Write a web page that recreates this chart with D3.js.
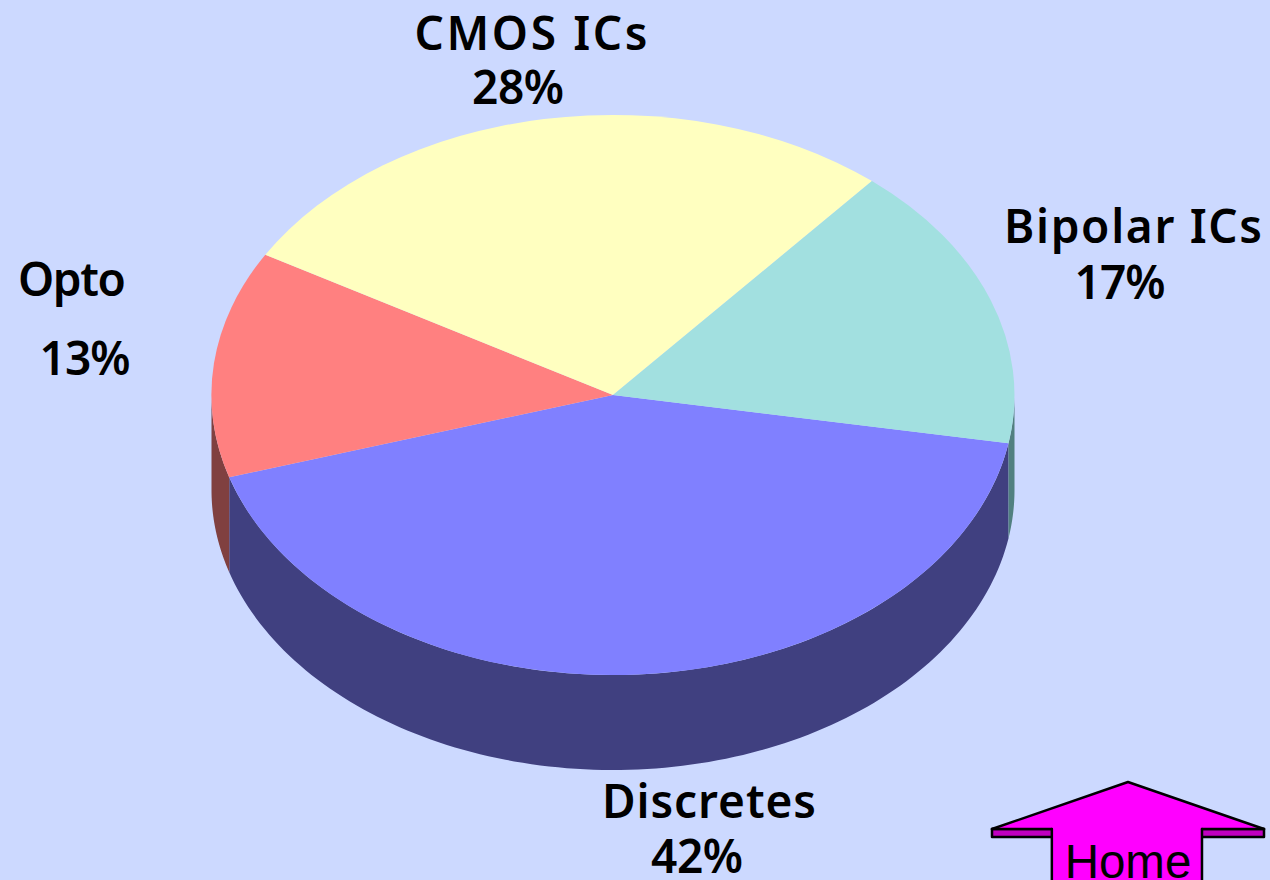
<!DOCTYPE html>
<html><head><meta charset="utf-8">
<script src="https://cdn.jsdelivr.net/npm/d3@7"></script>
<style>html,body{margin:0;padding:0;background:#ccd9ff;overflow:hidden}svg{display:block}</style>
</head><body><svg id="c" width="1270" height="880"></svg>
<script>
const categories = ["Discretes","Opto","CMOS ICs","Bipolar ICs"];
const values = [42.5,13.1,27.8,16.6];
const percentLabels = ["42%","13%","28%","17%"];
const topColors = ["#8080ff","#ff8080","#ffffc0","#a2e0e0"];
const wallColors = ["#404080","#804040","#808060","#518080"];
const labelLines = [
  {i:0,x:709,y:818,t:0,w:214},{i:0,x:697,y:873,t:1,w:92},
  {i:1,x:72,y:296,t:0,w:108},{i:1,x:85,y:375,t:1,w:91},
  {i:2,x:531,y:50,t:0,w:233},{i:2,x:518,y:104,t:1,w:92},
  {i:3,x:1133,y:243,t:0,w:258},{i:3,x:1120,y:299,t:1,w:91}];
const cx=613, cy=395, rx=401.5, ry=280, depth=95;
const svg=d3.select("#c");
const deg=Math.PI/180;
const pie=d3.pie().sort(null).value(d=>d).startAngle(99.9*deg).endAngle(459.9*deg)(values);
const px=a=>cx+rx*Math.sin(a), py=a=>cy-ry*Math.cos(a);
// side walls: only the front half of the ellipse (d3 angles 90..270 deg)
const wallArea=d3.area().x(a=>px(a)).y0(a=>py(a)).y1(a=>py(a)+depth);
pie.forEach((p,i)=>{
  const segs=[[p.startAngle,p.endAngle],[p.startAngle-2*Math.PI,p.endAngle-2*Math.PI]];
  segs.forEach(([s,e])=>{
    const a0=Math.max(s,90*deg), a1=Math.min(e,270*deg);
    if(a1<=a0) return;
    const n=120, ang=d3.range(n+1).map(k=>a0+(a1-a0)*k/n);
    svg.append("path").attr("d",wallArea(ang)).attr("fill",wallColors[i]);
  });
});
const arc=d3.arc().innerRadius(0).outerRadius(1);
const topFace=svg.append("g").attr("transform",`translate(${cx},${cy}) scale(${rx},${ry})`);
topFace.selectAll("path").data(pie).join("path").attr("d",arc).attr("fill",(d,i)=>topColors[i]);
svg.selectAll("text.l").data(labelLines).join("text").attr("class","l")
  .attr("x",d=>d.x).attr("y",d=>d.y).attr("text-anchor","middle")
  .attr("textLength",d=>d.w).attr("lengthAdjust","spacing")
  .attr("font-family","'Noto Sans',sans-serif").attr("font-weight",600).attr("font-size",46).attr("fill","#000")
  .text(d=>d.t?percentLabels[d.i]:categories[d.i]);
// Home button
const homeLabel="Home";
const hx=d3.scaleLinear().domain([-1,1]).range([992,1264]);
const hy=d3.scaleLinear().domain([0,1]).range([782,829]);
const lw=-0.56, lr=0.544, wingY=1.17, bottom=2.2;
const line=d3.line().x(d=>hx(d[0])).y(d=>hy(d[1]));
const g=svg.append("g").attr("stroke","#000").attr("stroke-width",2.5).attr("stroke-linejoin","round").attr("stroke-linecap","round");
g.append("path").attr("d",line([[-1,1],[-1,wingY],[1,wingY],[1,1]])+"Z").attr("fill","#c000c0");
g.append("path").attr("d",line([[0,0],[1,1],[lr,1],[lr,bottom],[lw,bottom],[lw,1],[-1,1]])+"Z").attr("fill","#ff00ff").attr("stroke","none");
g.append("path").attr("d",line([[lw,wingY],[lw,1.04]])).attr("fill","#ff00ff").attr("stroke","none");
g.append("path").attr("d",line([[-1,1],[lw,1]])).attr("fill","none");
g.append("path").attr("d",line([[lr,1],[1,1]])).attr("fill","none");
g.append("path").attr("d",line([[lw,1],[lw,bottom]])).attr("fill","none");
g.append("path").attr("d",line([[lr,1],[lr,bottom]])).attr("fill","none");
g.append("path").attr("d",line([[-1,1],[0,0],[1,1]])).attr("fill","none");
svg.append("text").attr("x",hx(0)).attr("y",878).attr("text-anchor","middle")
  .attr("font-family","'Liberation Sans',Arial,sans-serif").attr("font-size",47.5).attr("fill","#000").text(homeLabel);
</script></body></html>
